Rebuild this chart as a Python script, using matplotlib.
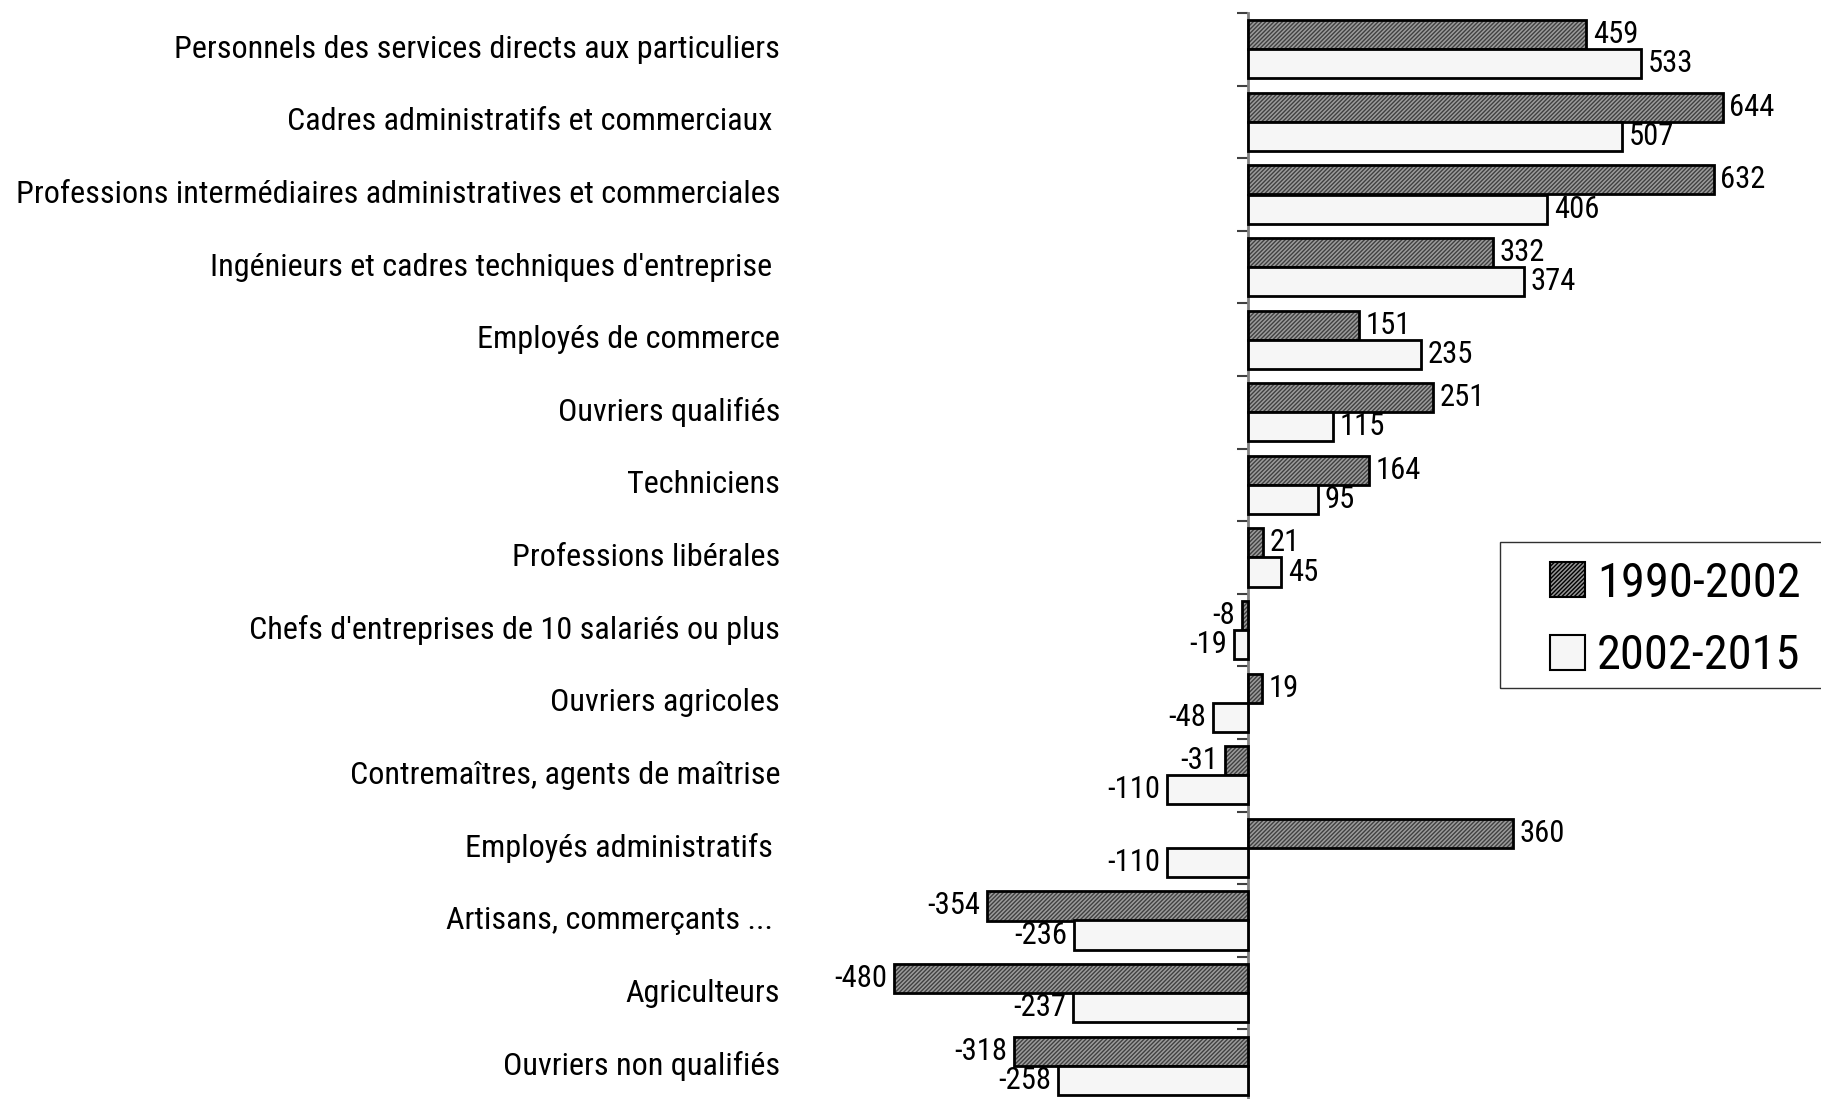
import matplotlib
matplotlib.use("Agg")
import matplotlib.pyplot as plt
from matplotlib.transforms import blended_transform_factory
from matplotlib.patches import Patch, Rectangle
from matplotlib import font_manager
from matplotlib.font_manager import FontProperties

categories = [
    "Personnels des services directs aux particuliers",
    "Cadres administratifs et commerciaux ",
    "Professions intermédiaires administratives et commerciales",
    "Ingénieurs et cadres techniques d'entreprise ",
    "Employés de commerce",
    "Ouvriers qualifiés",
    "Techniciens",
    "Professions libérales",
    "Chefs d'entreprises de 10 salariés ou plus",
    "Ouvriers agricoles",
    "Contremaîtres, agents de maîtrise",
    "Employés administratifs ",
    "Artisans, commerçants ... ",
    "Agriculteurs",
    "Ouvriers non qualifiés",
]
serie_1990 = [459, 644, 632, 332, 151, 251, 164, 21, -8, 19, -31, 360, -354, -480, -318]
serie_2002 = [533, 507, 406, 374, 235, 115, 95, 45, -19, -48, -110, -110, -236, -237, -258]
legende = ["1990-2002", "2002-2015"]


# police étroite type Arial Narrow si possible
def choisir_police():
    polices = [f for f in font_manager.fontManager.ttflist
               if f.style == 'normal' and f.weight in (400, 'normal', 'regular')]
    def cherche(test):
        for f in polices:
            if test(f):
                return f.fname
        return None
    essais = [
        lambda f: f.name == 'Liberation Sans Narrow',
        lambda f: f.name == 'Arial Narrow',
        lambda f: f.name == 'Roboto Condensed',
        lambda f: f.name == 'DejaVu Sans' and 'condensed' in str(f.stretch).lower(),
        lambda f: 'narrow' in f.name.lower() or 'condensed' in f.name.lower(),
        lambda f: f.name == 'Liberation Sans',
    ]
    for t in essais:
        p = cherche(t)
        if p:
            return p
    return None


chemin = choisir_police()
fp = FontProperties(fname=chemin) if chemin else FontProperties(family='DejaVu Sans')

W, H = 1821, 1099
fig = plt.figure(figsize=(W / 100, H / 100), dpi=100)
renderer = fig.canvas.get_renderer()

# taille ajustée pour que le libellé le plus long fasse ~766 px
t = fig.text(0, 0, categories[2], fontproperties=fp, fontsize=20)
largeur = t.get_window_extent(renderer).width
t.remove()
taille = min(20 * 766 / largeur, 26)

# axe: x=800..1821 px, y=13..1102 px
ax = fig.add_axes([800 / W, 1 - 1102 / H, 1 - 800 / W, (1102 - 13) / H])
ax.set_xlim((800 - 1248) / 0.737, (1821 - 1248) / 0.737)
n = len(categories)
ax.set_ylim(n - 0.5, -0.5)

y = list(range(n))
y1 = [v - 0.2 for v in y]
y2 = [v + 0.2 for v in y]

plt.rcParams['hatch.linewidth'] = 1.0
# couche hachurée puis contour
ax.barh(y1, serie_1990, height=0.4, color='#9c9c9c', edgecolor='#404040',
        hatch='////////', linewidth=0, zorder=3)
ax.barh(y1, serie_1990, height=0.4, fill=False, edgecolor='black', linewidth=2.0, zorder=4)
ax.barh(y2, serie_2002, height=0.4, color='#f6f6f6', edgecolor='black', linewidth=2.0, zorder=4)

for yy, v in zip(y1 + y2, serie_1990 + serie_2002):
    if v >= 0:
        ax.text(v + 9, yy, str(v), ha='left', va='center', fontproperties=fp,
                fontsize=taille * 0.95, zorder=5)
    else:
        ax.text(v - 9, yy, str(v), ha='right', va='center', fontproperties=fp,
                fontsize=taille * 0.95, zorder=5)

# étiquettes des catégories
trans = blended_transform_factory(fig.transFigure, ax.transData)
for yy, c in zip(y, categories):
    ax.text(780 / W, yy, c, transform=trans, ha='right', va='center',
            fontproperties=fp, fontsize=taille)

for s in ['top', 'right', 'bottom']:
    ax.spines[s].set_visible(False)
ax.spines['left'].set_position(('data', 0))
ax.spines['left'].set_color('#808080')
ax.spines['left'].set_linewidth(2.0)
ax.spines['left'].set_zorder(2)
ax.set_xticks([])
ax.set_yticks([v - 0.5 for v in range(n + 1)])
ax.set_yticklabels([])
ax.tick_params(axis='y', direction='out', length=8, width=1.5, color='#404040')

# légende : cadre dessiné à part (il déborde à droite)
fig.patches.append(Rectangle((1500 / W, 1 - 688 / H), 400 / W, 146 / H,
                             transform=fig.transFigure, fill=False,
                             edgecolor='#303030', linewidth=1.0))
handles = [Patch(facecolor='#969696', edgecolor='black', hatch='////////', linewidth=1.5),
           Patch(facecolor='#f6f6f6', edgecolor='black', linewidth=1.5)]
fp_leg = fp.copy()
fp_leg.set_size(taille * 1.5)
leg = fig.legend(handles, legende, loc='center left', bbox_to_anchor=(1550 / W, 1 - 620 / H),
                 prop=fp_leg, frameon=False, handlelength=0.72,
                 handleheight=0.72, handletextpad=0.25, borderpad=0, labelspacing=0.55,
                 borderaxespad=0)

fig.savefig('out.png', dpi=100)
